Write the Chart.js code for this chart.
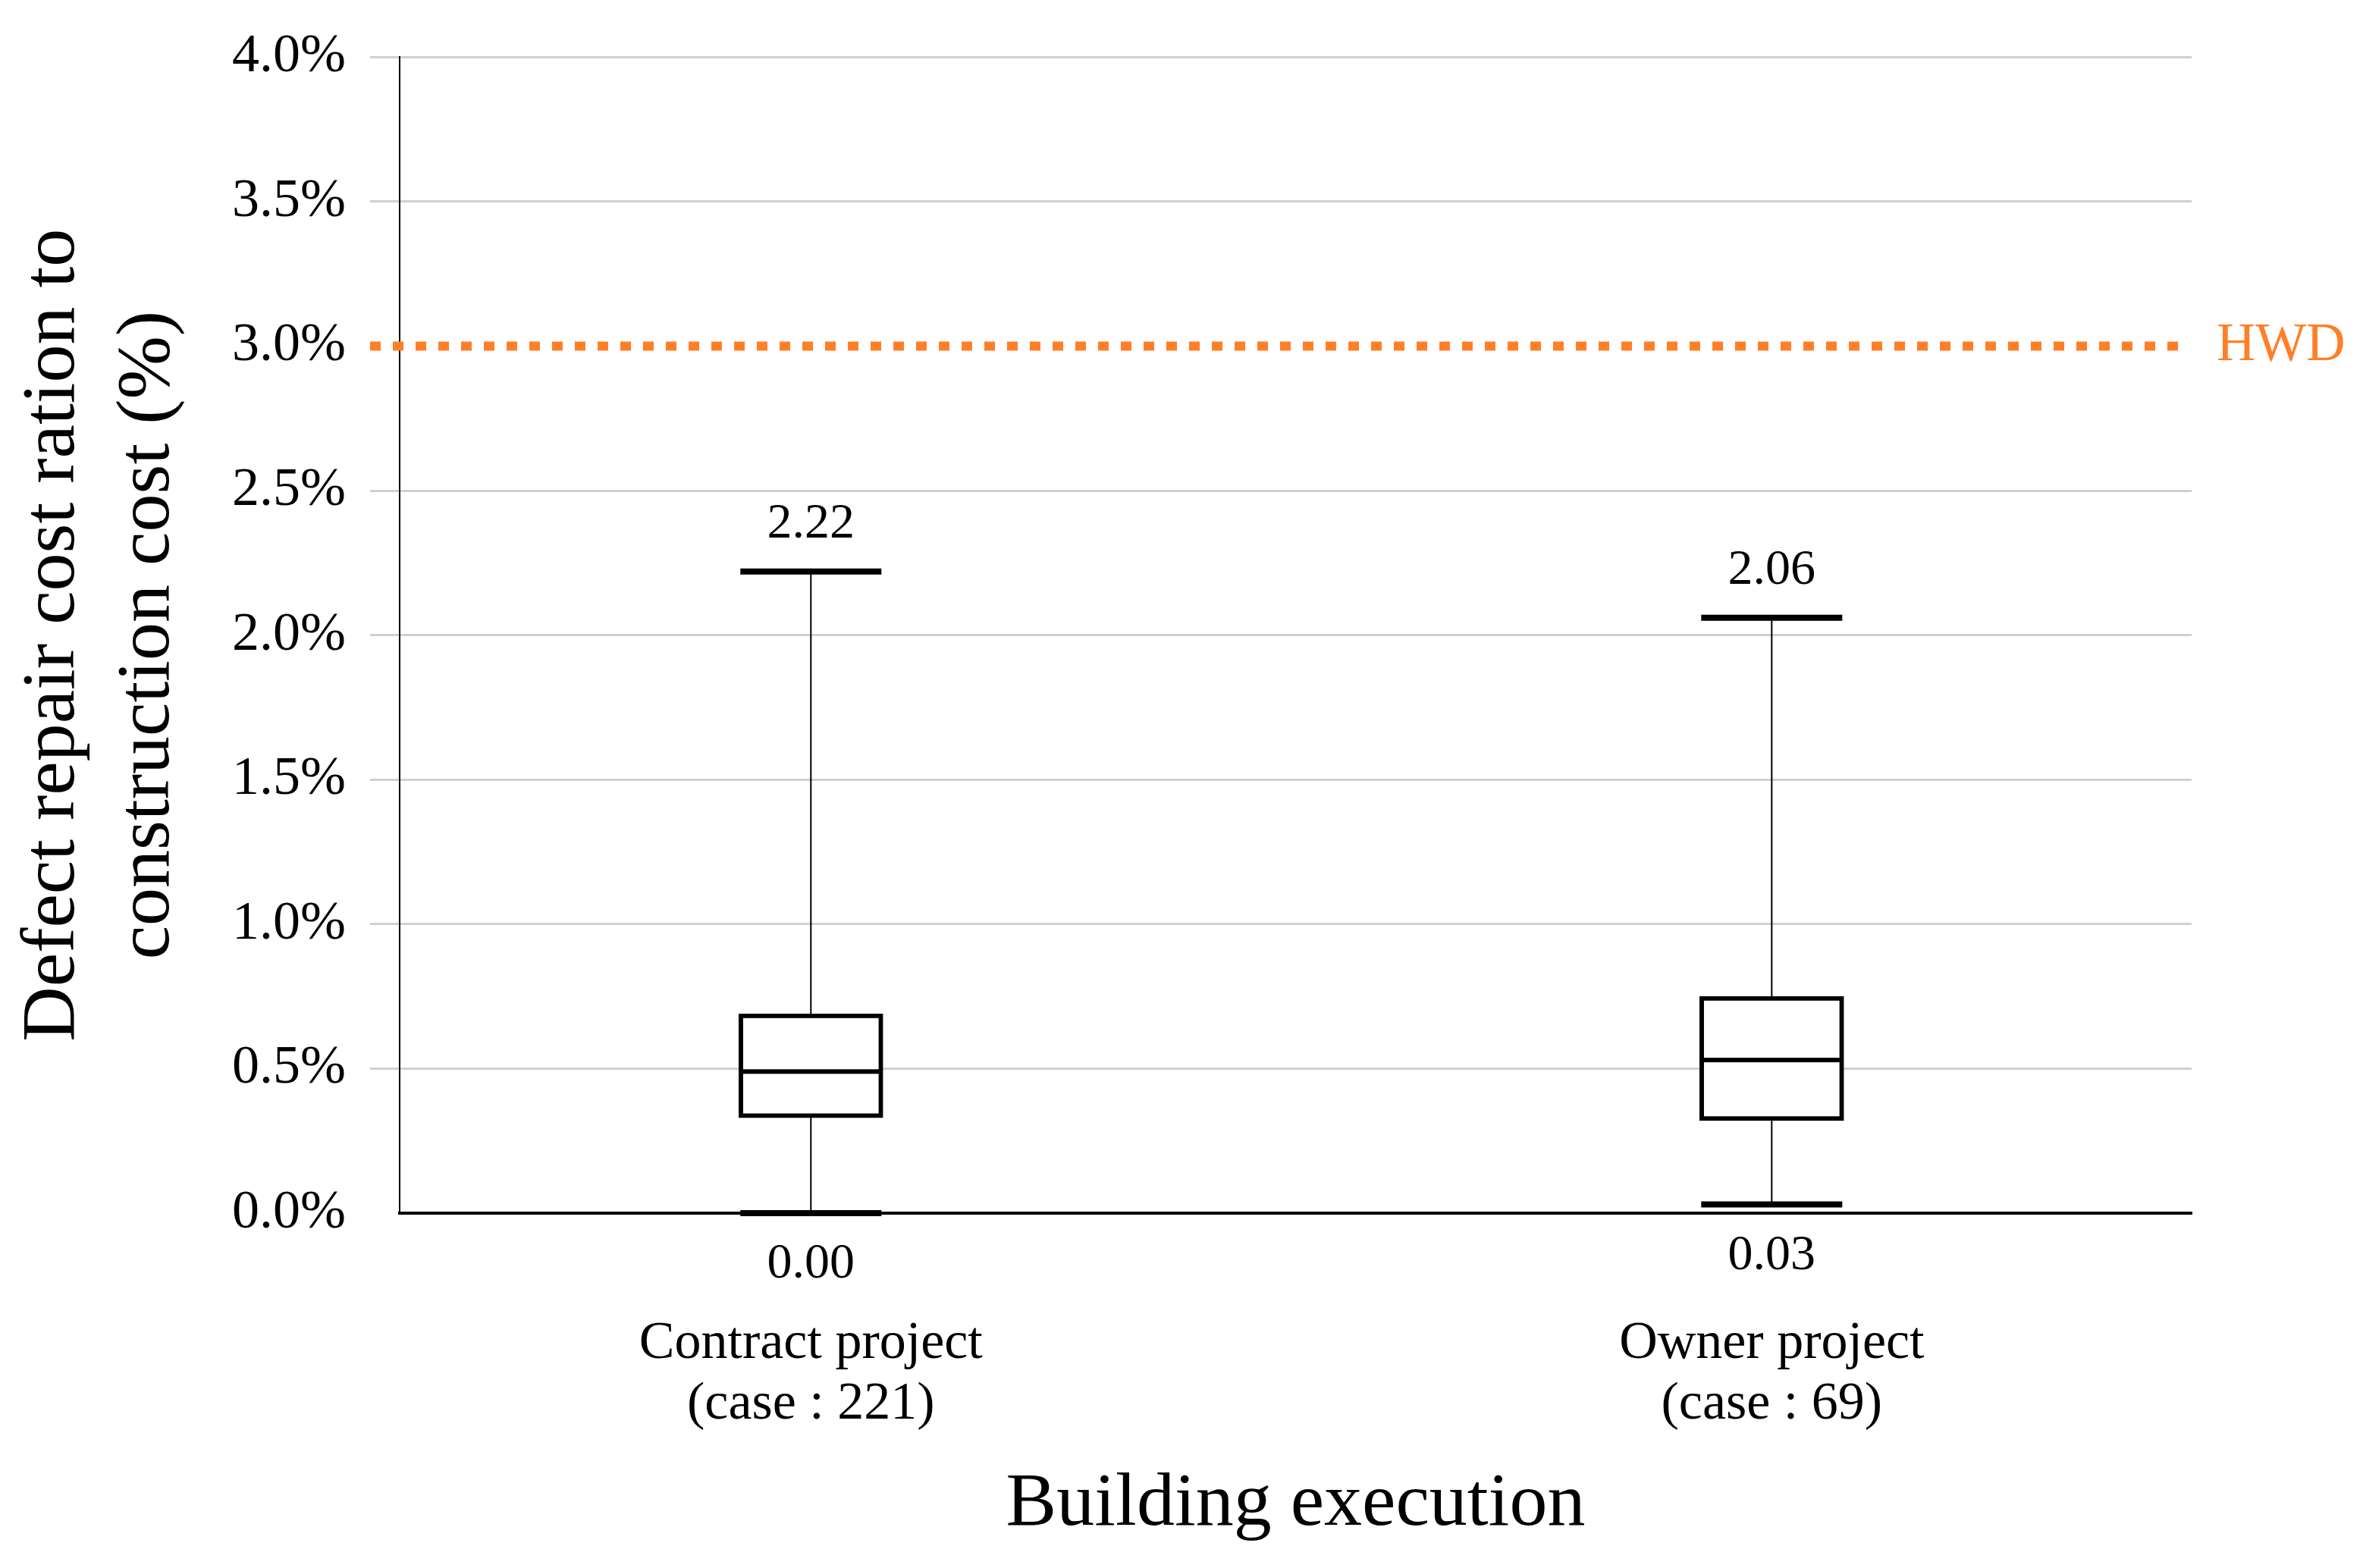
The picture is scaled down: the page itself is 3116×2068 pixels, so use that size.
<!DOCTYPE html>
<html>
<head>
<meta charset="utf-8">
<script src="https://cdn.jsdelivr.net/npm/chart.js@4/dist/chart.umd.min.js"></script>
<style>
  html, body { margin: 0; padding: 0; background: #fff; }
  #wrap { width: 3116px; height: 2068px; }
</style>
</head>
<body>
<div id="wrap"><canvas id="boxChart" width="3116" height="2068"></canvas></div>
<script>
// data (%)
const categories = ["Contract project", "Owner project"];
const caseCounts = [221, 69];
const mins = [0.00, 0.03];
const q1s = [0.33, 0.32];
const medians = [0.49, 0.53];
const q3s = [0.69, 0.75];
const maxs = [2.22, 2.06];
const hwdLine = 3.0;
const hwdLabel = "HWD";
const yTicks = [0, 0.5, 1, 1.5, 2, 2.5, 3, 3.5, 4];

const serif = "'Liberation Serif', 'Times New Roman', serif";
const boxWidth = 190;
const orange = "#ff7f27";

const boxExtras = {
    id: "boxExtras",

    beforeDatasetsDraw(chart) {
        const { ctx, chartArea, scales: { x, y } } = chart;
        ctx.save();

        // HWD reference line
        const hy = y.getPixelForValue(hwdLine);
        ctx.strokeStyle = orange;
        ctx.lineWidth = 12;
        ctx.setLineDash([14, 16]);
        ctx.beginPath();
        ctx.moveTo(chartArea.left - 39, hy);
        ctx.lineTo(chartArea.right - 15, hy);
        ctx.stroke();
        ctx.setLineDash([]);

        ctx.fillStyle = orange;
        ctx.font = "71px " + serif;
        ctx.textAlign = "left";
        ctx.textBaseline = "middle";
        ctx.fillText(hwdLabel, chartArea.right + 33, hy);

        // whiskers
        ctx.strokeStyle = "#000";
        ctx.lineWidth = 2;
        categories.forEach((_, i) => {
            const px = x.getPixelForValue(i);
            ctx.beginPath();
            ctx.moveTo(px, y.getPixelForValue(mins[i]));
            ctx.lineTo(px, y.getPixelForValue(maxs[i]));
            ctx.stroke();
        });

        ctx.restore();
    },

    afterDatasetsDraw(chart) {
        const { ctx, scales: { x, y } } = chart;
        ctx.save();
        ctx.strokeStyle = "#000";
        ctx.fillStyle = "#000";
        ctx.font = "66px " + serif;
        ctx.textAlign = "center";
        ctx.textBaseline = "middle";

        categories.forEach((_, i) => {
            const px = x.getPixelForValue(i);
            const half = boxWidth / 2;

            // median
            const my = y.getPixelForValue(medians[i]);
            ctx.lineWidth = 6;
            ctx.beginPath();
            ctx.moveTo(px - half + 3, my);
            ctx.lineTo(px + half - 3, my);
            ctx.stroke();

            // caps
            ctx.lineWidth = 8;
            [mins[i], maxs[i]].forEach(v => {
                const cy = y.getPixelForValue(v);
                ctx.beginPath();
                ctx.moveTo(px - half + 2, cy);
                ctx.lineTo(px + half - 2, cy);
                ctx.stroke();
            });

            // value labels
            ctx.fillText(maxs[i].toFixed(2), px, y.getPixelForValue(maxs[i]) - 62);
            ctx.fillText(mins[i].toFixed(2), px, y.getPixelForValue(mins[i]) + 68);
        });

        ctx.restore();
    }
};

const ctx = document.getElementById("boxChart").getContext("2d");

new Chart(ctx, {
    type: "bar",
    data: {
        datasets: [
            {
                label: "IQR",
                data: categories.map((_, i) => ({ x: i, y: [q1s[i], q3s[i]] })),
                backgroundColor: "#fff",
                borderColor: "#000",
                borderWidth: 6,
                borderSkipped: false,
                barThickness: boxWidth
            }
        ]
    },
    options: {
        responsive: false,
        devicePixelRatio: 1,
        animation: false,
        layout: {
            padding: { top: 72, right: 226, left: 0, bottom: 0 }
        },
        plugins: {
            legend: { display: false },
            tooltip: { enabled: false }
        },
        scales: {
            x: {
                type: "linear",
                offset: false,
                min: -0.428,
                max: 1.437,
                afterBuildTicks: scale => {
                    scale.ticks = categories.map((_, i) => ({ value: i }));
                },
                afterFit: scale => { scale.height = 468; },
                grid: { display: false, drawTicks: false },
                border: { color: "#000", width: 4 },
                ticks: {
                    padding: 132,
                    color: "#000",
                    font: { family: serif, size: 70, lineHeight: 1.15 },
                    callback: v => [categories[v], "(case : " + caseCounts[v] + ")"]
                },
                title: {
                    display: true,
                    text: "Building execution",
                    color: "#000",
                    font: { family: serif, size: 100, lineHeight: 1.2 },
                    padding: { top: 0, bottom: 23 }
                }
            },
            y: {
                min: 0,
                max: 4,
                afterBuildTicks: scale => {
                    scale.ticks = yTicks.map(v => ({ value: v }));
                },
                afterFit: scale => { scale.width = 527; },
                grid: {
                    color: c => (c.tick && c.tick.value === hwdLine) ? "rgba(0,0,0,0)" : "#d0d0d0",
                    tickColor: c => (c.tick && (c.tick.value === hwdLine || c.tick.value === 0)) ? "rgba(0,0,0,0)" : "#d0d0d0",
                    lineWidth: 3,
                    tickLength: 39
                },
                border: { color: "#000", width: 2 },
                ticks: {
                    padding: 32,
                    color: "#000",
                    font: { family: serif, size: 72 },
                    callback: v => v.toFixed(1) + "%"
                },
                title: {
                    display: true,
                    text: ["Defect repair cost ration to", "construction cost (%)"],
                    color: "#000",
                    font: { family: serif, size: 100, lineHeight: 1.25 },
                    padding: { top: 8, bottom: 0 }
                }
            }
        }
    },
    plugins: [boxExtras]
});
</script>
</body>
</html>
